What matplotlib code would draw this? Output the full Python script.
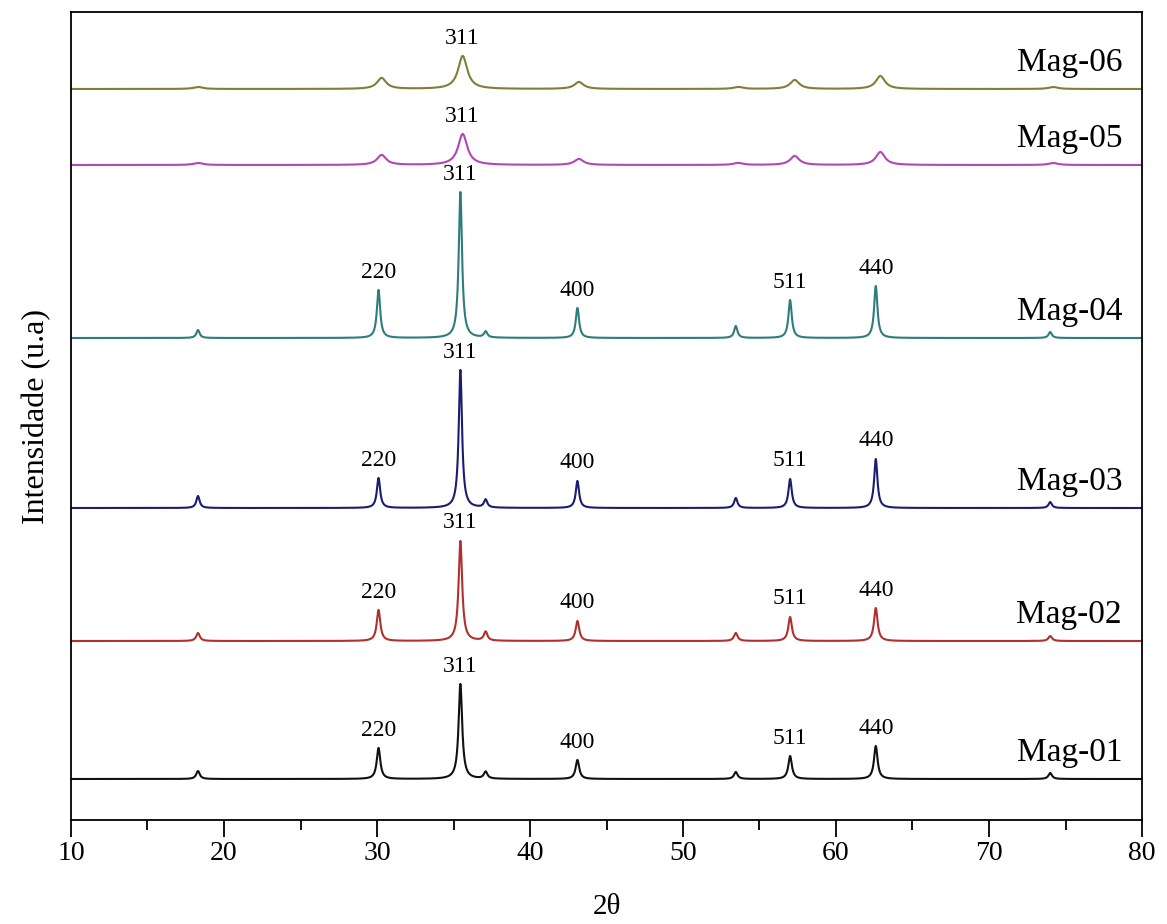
import numpy as np
import matplotlib
matplotlib.use("Agg")
import matplotlib.pyplot as plt
from matplotlib.ticker import MultipleLocator

plt.rcParams["font.family"] = ["Liberation Serif", "DejaVu Serif"]

# ── Dados ────────────────────────────────────────────────────────────────
samples = ["Mag-01", "Mag-02", "Mag-03", "Mag-04", "Mag-05", "Mag-06"]
colors = ["#111111", "#b03030", "#1c1c72", "#2e7d7d", "#b445b4", "#7f7f35"]

# linha de base de cada difratograma (u.a.)
baselines = [41, 179, 312, 482, 655, 731]

# posições 2θ dos picos (amostras cristalinas e nanométricas)
peaks_bulk = [18.3, 30.1, 35.45, 37.1, 43.1, 53.45, 57.0, 62.6, 74.0]
peaks_nano = [18.3, 30.3, 35.6, 37.2, 43.2, 53.6, 57.3, 62.9, 74.2]

# intensidade de cada pico acima da linha de base
heights = {
    "Mag-01": [8, 31, 95, 7, 19, 7, 23, 33, 6],
    "Mag-02": [8, 31, 100, 9, 20, 8, 24, 33, 5],
    "Mag-03": [12, 30, 138, 8, 27, 10, 29, 49, 6],
    "Mag-04": [8, 48, 146, 6, 30, 12, 38, 52, 6],
    "Mag-05": [2, 10, 31, 0, 6, 2, 9, 13, 2],
    "Mag-06": [2, 11, 33, 0, 7, 2, 9, 13, 2],
}
# meia largura a meia altura (graus)
hwhm = {"Mag-01": 0.14, "Mag-02": 0.14, "Mag-03": 0.13, "Mag-04": 0.13,
        "Mag-05": 0.36, "Mag-06": 0.36}

# índices de Miller rotulados
hkl_bulk = {"220": 1, "311": 2, "400": 4, "511": 6, "440": 7}
hkl_nano = {"311": 2}


def profile(x, centers, amps, g):
    y = np.zeros_like(x)
    for c, a in zip(centers, amps):
        y += a / (1 + ((x - c) / g) ** 2)
    return y


x = np.linspace(10, 80, 7001)

fig = plt.figure(figsize=(11.67, 9.24), dpi=100)
ax = fig.add_axes([71 / 1167, 1 - 820 / 924, (1142 - 71) / 1167, (820 - 12) / 924])

for name, col, base in zip(samples, colors, baselines):
    nano = name in ("Mag-05", "Mag-06")
    centers = peaks_nano if nano else peaks_bulk
    y = base + profile(x, centers, heights[name], hwhm[name])
    ax.plot(x, y, color=col, lw=1.5)

    labels = hkl_nano if nano else hkl_bulk
    for lab, i in labels.items():
        ax.text(centers[i], base + heights[name][i] + 18, lab,
                ha="center", va="center", fontsize=17)

    ax.text(78.7, base + 26, name, ha="right", va="center", fontsize=24)

ax.set_xlim(10, 80)
ax.set_ylim(0, 808)
ax.set_yticks([])
ax.xaxis.set_major_locator(MultipleLocator(10))
ax.xaxis.set_minor_locator(MultipleLocator(5))
ax.tick_params(axis="x", which="major", direction="out", length=12, width=1.3,
               labelsize=20, pad=3)
ax.tick_params(axis="x", which="minor", direction="out", length=7, width=1.3)
for sp in ax.spines.values():
    sp.set_linewidth(1.3)

ax.set_xlabel("2θ", fontsize=21, labelpad=20)
ax.set_ylabel("Intensidade (u.a)", fontsize=23, labelpad=14)

fig.savefig("out.png", dpi=100)
